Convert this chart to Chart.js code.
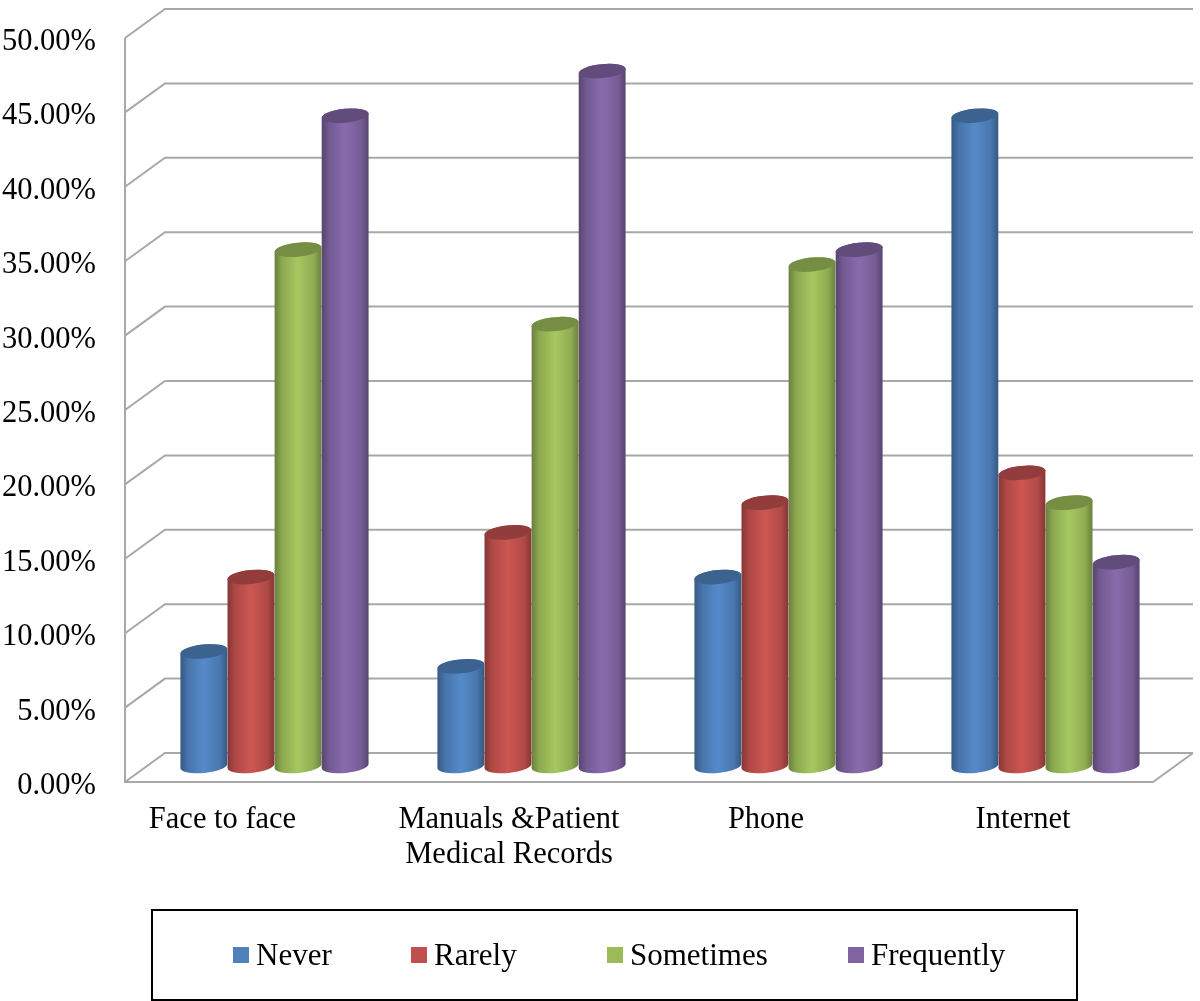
<!DOCTYPE html>
<html>
<head>
<meta charset="utf-8">
<style>html,body{margin:0;padding:0;background:#fff}canvas{display:block}</style>
<script src="https://cdn.jsdelivr.net/npm/chart.js@4/dist/chart.umd.min.js"></script>
</head>
<body>
<canvas id="c" width="1200" height="1001"></canvas>
<script>
const categories = ['Face to face', ['Manuals &Patient', 'Medical Records'], 'Phone', 'Internet'];
const seriesNames = ['Never', 'Rarely', 'Sometimes', 'Frequently'];
const never = [8, 7, 13, 44];
const rarely = [13, 16, 18, 20];
const sometimes = [35, 30, 34, 18];
const frequently = [44, 47, 35, 14];
const seriesColors = ['#4F81BD', '#C0504D', '#9BBB59', '#8064A2'];

const FONT = '"Liberation Serif", "Times New Roman", serif';
const GRID = '#a8a8a8';
const DEPTH_X = 40, DEPTH_Y = 29;     // back wall offset
const BAR_DX = 21, TOP_DY = -11.5, BASE_DY = -16;
const RY = 7, TILT = -0.1;

function shade(hex, f) {
  const n = parseInt(hex.slice(1), 16);
  const ch = s => Math.max(0, Math.min(255, Math.round(((n >> s) & 255) * f)));
  return `rgb(${ch(16)},${ch(8)},${ch(0)})`;
}

const walls = {
  id: 'walls',
  beforeDatasetsDraw(chart) {
    const { ctx, chartArea: a, scales: { y } } = chart;
    ctx.save();
    ctx.strokeStyle = GRID;
    ctx.lineWidth = 2;
    ctx.lineJoin = 'miter';
    y.ticks.forEach(t => {
      const py = y.getPixelForValue(t.value);
      ctx.beginPath();
      ctx.moveTo(a.left, py);
      ctx.lineTo(a.left + DEPTH_X, py - DEPTH_Y);
      ctx.lineTo(a.right + DEPTH_X, py - DEPTH_Y);
      ctx.stroke();
    });
    const y0 = y.getPixelForValue(0);
    ctx.beginPath();
    ctx.moveTo(a.left, y.getPixelForValue(50));
    ctx.lineTo(a.left, y0);
    ctx.lineTo(a.right, y0);
    ctx.lineTo(a.right + DEPTH_X, y0 - DEPTH_Y);
    ctx.stroke();
    ctx.restore();
  },
  afterLayout(chart) {
    // first category label sits left of its group in the reference
    const items = chart.scales.x.getLabelItems();
    items.forEach((it, i) => { it.options.translation[0] += (i === 0 ? -31 : -1.5); });
    chart.scales.y.getLabelItems().forEach(it => { it.options.translation[1] += 4; });
    // legend: library supplies the items, drawn in a framed strip
    const lg = chart.legend;
    lg.draw = function () {
      const ctx = chart.ctx;
      ctx.save();
      ctx.strokeStyle = '#000';
      ctx.lineWidth = 2;
      ctx.strokeRect(152, 910, 925, 90);
      const boxX = [233, 411, 607, 848];
      ctx.font = '31px ' + FONT;
      ctx.textBaseline = 'alphabetic';
      ctx.textAlign = 'left';
      lg.legendItems.forEach((item, i) => {
        ctx.fillStyle = item.fillStyle;
        ctx.fillRect(boxX[i], 947, 16, 16);
        ctx.fillStyle = '#000';
        ctx.fillText(item.text, boxX[i] + 23, 965);
      });
      ctx.restore();
    };
  },
  beforeDatasetDraw(chart, args) {
    const ctx = chart.ctx;
    const color = chart.data.datasets[args.index].backgroundColor;
    chart.getDatasetMeta(args.index).data.forEach(el => {
      const cx = el.x + BAR_DX, rx = el.width / 2;
      const top = el.y + TOP_DY, bot = el.base + BASE_DY;
      const g = ctx.createLinearGradient(cx - rx, 0, cx + rx, 0);
      g.addColorStop(0, shade(color, 0.68));
      g.addColorStop(0.16, shade(color, 0.9));
      g.addColorStop(0.5, shade(color, 1.07));
      g.addColorStop(0.84, shade(color, 0.92));
      g.addColorStop(1, shade(color, 0.68));
      ctx.save();
      ctx.beginPath();
      ctx.ellipse(cx, top, rx, RY, TILT, Math.PI, 0, false);
      ctx.ellipse(cx, bot, rx, RY, TILT, 0, Math.PI, false);
      ctx.closePath();
      ctx.fillStyle = g;
      ctx.fill();
      ctx.beginPath();
      ctx.ellipse(cx, top, rx, RY, TILT, 0, Math.PI * 2);
      ctx.fillStyle = shade(color, 0.76);
      ctx.fill();
      ctx.restore();
    });
    return false;
  }
};

new Chart(document.getElementById('c'), {
  type: 'bar',
  data: {
    labels: categories,
    datasets: [never, rarely, sometimes, frequently].map((d, i) => ({
      label: seriesNames[i],
      data: d,
      backgroundColor: seriesColors[i],
      categoryPercentage: 0.733,
      barPercentage: 1
    }))
  },
  options: {
    responsive: false,
    animation: false,
    events: [],
    layout: { padding: { top: 38, right: 47, left: 0, bottom: 49 } },
    plugins: {
      title: { display: false },
      tooltip: { enabled: false },
      legend: {
        display: true,
        position: 'bottom',
        labels: { boxWidth: 16, boxHeight: 16, padding: 10, color: '#000', font: { family: FONT, size: 30 } }
      }
    },
    scales: {
      x: {
        grid: { display: false, drawTicks: false },
        border: { display: false },
        ticks: {
          padding: 21, color: '#000', maxRotation: 0, minRotation: 0, autoSkip: false,
          font: { family: FONT, size: 30.5, lineHeight: 1.13 }
        },
        afterFit(s) { s.height = 120; s.paddingLeft = 0; s.paddingRight = 0; }
      },
      y: {
        min: 0, max: 50,
        grid: { display: false, drawTicks: false },
        border: { display: false },
        ticks: {
          stepSize: 5, padding: 29, color: '#000',
          font: { family: FONT, size: 30.5 },
          callback: v => v.toFixed(2) + '%'
        },
        afterFit(s) { s.width = 125; s.paddingTop = 0; s.paddingBottom = 0; }
      }
    }
  },
  plugins: [walls]
});
</script>
</body>
</html>
